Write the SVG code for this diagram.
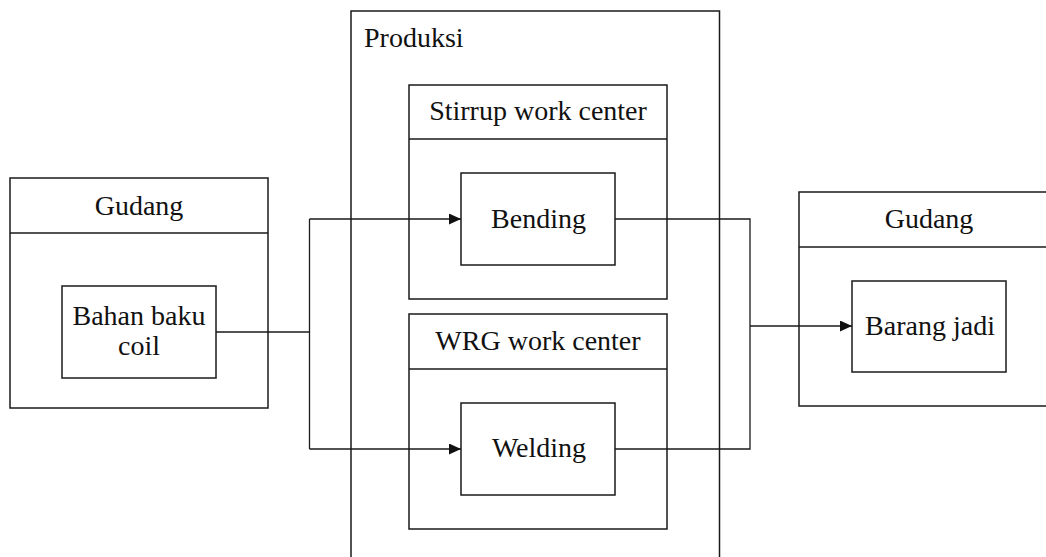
<svg xmlns="http://www.w3.org/2000/svg" width="1046" height="557" viewBox="0 0 1046 557">
  <style>
    .box { fill: #ffffff; stroke: #1a1a1a; stroke-width: 1.5; }
    .sep { stroke: #1a1a1a; stroke-width: 1.5; }
    .lbl { font-family: "Liberation Serif", "Times New Roman", serif; font-size: 28px; fill: #111111; }
    .mid { text-anchor: middle; }
    .wire { fill: none; stroke: #1a1a1a; stroke-width: 1.3; }
  </style>
  <defs>
    <marker id="arrow" viewBox="0 0 12 12" refX="12" refY="6" markerWidth="12" markerHeight="11" markerUnits="userSpaceOnUse" orient="auto" preserveAspectRatio="none">
      <path d="M0,0 L12,6 L0,12 z" fill="#111111"/>
    </marker>
  </defs>

  <!-- raw material store -->
  <g id="gudang-in">
    <rect class="box" x="10" y="178" width="258" height="230"/>
    <line class="sep" x1="10" y1="233" x2="268" y2="233"/>
    <text class="lbl mid" x="139" y="215">Gudang</text>
  </g>

  <!-- production area -->
  <g id="produksi">
    <rect class="box" x="351" y="11" width="368.5" height="560"/>
    <text class="lbl" x="364" y="47">Produksi</text>
  </g>

  <g id="stirrup-wc">
    <rect class="box" x="409" y="85" width="258" height="214"/>
    <line class="sep" x1="409" y1="139" x2="667" y2="139"/>
    <text class="lbl mid" x="538" y="120">Stirrup work center</text>
  </g>

  <g id="wrg-wc">
    <rect class="box" x="409" y="314" width="258" height="215"/>
    <line class="sep" x1="409" y1="369" x2="667" y2="369"/>
    <text class="lbl mid" x="538" y="350">WRG work center</text>
  </g>

  <!-- finished goods store -->
  <g id="gudang-out">
    <rect class="box" x="799" y="192" width="260" height="214"/>
    <line class="sep" x1="799" y1="247" x2="1059" y2="247"/>
    <text class="lbl mid" x="929" y="228">Gudang</text>
  </g>

  <!-- connectors -->
  <g id="connectors">
    <path class="wire" d="M216,332 H309.5 M309.5,219 V449"/>
    <path class="wire" d="M309.5,219 H461" marker-end="url(#arrow)"/>
    <path class="wire" d="M309.5,449 H461" marker-end="url(#arrow)"/>
    <path class="wire" d="M615,219 H750 V449 H615"/>
    <path class="wire" d="M750,326 H852" marker-end="url(#arrow)"/>
  </g>

  <g id="bahan-baku">
    <rect class="box" x="62" y="286" width="154" height="92"/>
    <text class="lbl mid" x="139" y="325">Bahan baku</text>
    <text class="lbl mid" x="139" y="355">coil</text>
  </g>

  <g id="bending">
    <rect class="box" x="461" y="173" width="154" height="92"/>
    <text class="lbl mid" x="538.5" y="228">Bending</text>
  </g>

  <g id="welding">
    <rect class="box" x="461" y="403" width="154" height="92"/>
    <text class="lbl mid" x="539" y="457">Welding</text>
  </g>

  <g id="barang-jadi">
    <rect class="box" x="852" y="281" width="154" height="91"/>
    <text class="lbl mid" x="930" y="335">Barang jadi</text>
  </g>
</svg>
